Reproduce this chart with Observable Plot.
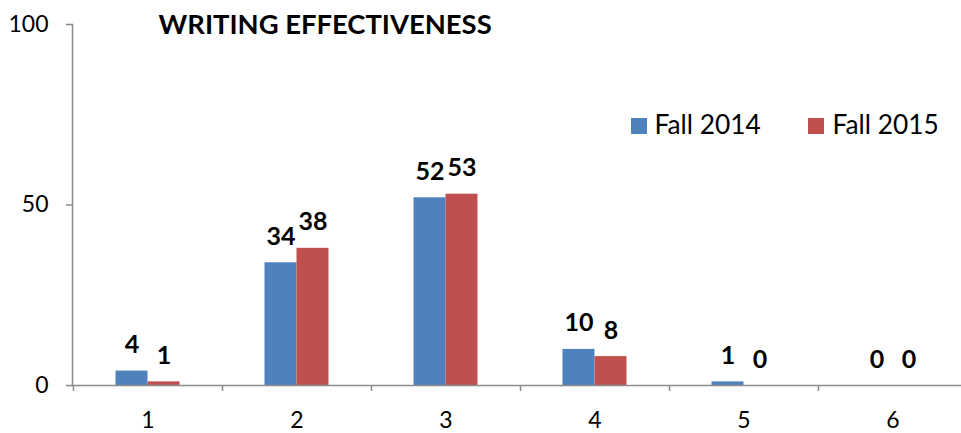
<!DOCTYPE html>
<html>
<head>
<meta charset="utf-8">
<script src="https://cdn.jsdelivr.net/npm/d3@7"></script>
<script src="https://cdn.jsdelivr.net/npm/@observablehq/plot@0.6"></script>
<style>
  html, body { margin: 0; padding: 0; background: #fff; }
  svg { overflow: visible; }
</style>
</head>
<body>
<div id="chart"></div>
<script>
const title = "WRITING EFFECTIVENESS";
const categories = ["1", "2", "3", "4", "5", "6"];
const seriesNames = ["Fall 2014", "Fall 2015"];
const fall2014 = [4, 34, 52, 10, 1, 0];
const fall2015 = [1, 38, 53, 8, 0, 0];
const yTicks = [0, 50, 100];

const colors = {"Fall 2014": "#4F81BD", "Fall 2015": "#C0504D"};
const axisColor = "#8c8c8c";
const font = "Lato, 'Open Sans', sans-serif";

const d2014 = categories.map((c, i) => ({cat: c, v: fall2014[i], s: seriesNames[0]}));
const d2015 = categories.map((c, i) => ({cat: c, v: fall2015[i], s: seriesNames[1]}));

const W = 961, H = 433, mL = 72, mT = 24, mB = 48;
const x0 = 73, x1 = 967;
const step = (x1 - x0) / categories.length;
const barW = 32;
const frameH = H - mT - mB;

const chart = Plot.plot({
  width: W,
  height: H,
  marginLeft: mL,
  marginRight: 0,
  marginTop: mT,
  marginBottom: mB,
  style: {fontFamily: font, background: "#fff", color: "#000"},
  x: {type: "band", domain: categories, range: [x0, x1], padding: 0},
  y: {domain: [0, 100]},
  marks: [
    Plot.barY(d2014, {x: "cat", y: "v", fill: colors["Fall 2014"], insetLeft: step / 2 - barW, insetRight: step / 2}),
    Plot.barY(d2015, {x: "cat", y: "v", fill: colors["Fall 2015"], insetLeft: step / 2, insetRight: step / 2 - barW}),
    Plot.frame({anchor: "left", stroke: axisColor, strokeWidth: 1.5}),
    Plot.frame({anchor: "bottom", stroke: axisColor, strokeWidth: 1.5}),
    Plot.ruleX(categories, {x: d => d, dx: -step / 2, insetTop: frameH, insetBottom: -6, stroke: axisColor, strokeWidth: 1.5}),
    Plot.axisY({ticks: yTicks, tickSize: 6, tickPadding: 18, stroke: axisColor, strokeWidth: 1.5, fontSize: 23, fill: "#000", label: null}),
    Plot.axisX({tickSize: 0, tickPadding: 26, fontSize: 23, fill: "#000", label: null}),
    Plot.text(d2014, {x: "cat", y: "v", text: d => String(d.v), dx: -barW / 2, dy: -26, fontSize: 25, fontWeight: "bold", fill: "#000", lineAnchor: "middle"}),
    Plot.text(d2015, {x: "cat", y: "v", text: d => String(d.v), dx: barW / 2, dy: -26, fontSize: 25, fontWeight: "bold", fill: "#000", lineAnchor: "middle"}),
    Plot.text([title], {frameAnchor: "top-left", text: d => d, dx: 86, dy: 1, textAnchor: "start", lineAnchor: "middle", fontSize: 27.4, fontWeight: "bold", fill: "#000"}),
    Plot.dot([seriesNames[0]], {frameAnchor: "top-left", dx: 566.5, dy: 101.5, symbol: "square", r: 9, fill: d => colors[d]}),
    Plot.dot([seriesNames[1]], {frameAnchor: "top-left", dx: 743.5, dy: 101.5, symbol: "square", r: 9, fill: d => colors[d]}),
    Plot.text([seriesNames[0]], {frameAnchor: "top-left", text: d => d, dx: 582, dy: 101, textAnchor: "start", lineAnchor: "middle", fontSize: 26.3, fill: "#000"}),
    Plot.text([seriesNames[1]], {frameAnchor: "top-left", text: d => d, dx: 760, dy: 101, textAnchor: "start", lineAnchor: "middle", fontSize: 26.3, fill: "#000"})
  ]
});
document.getElementById("chart").appendChild(chart);
</script>
</body>
</html>
